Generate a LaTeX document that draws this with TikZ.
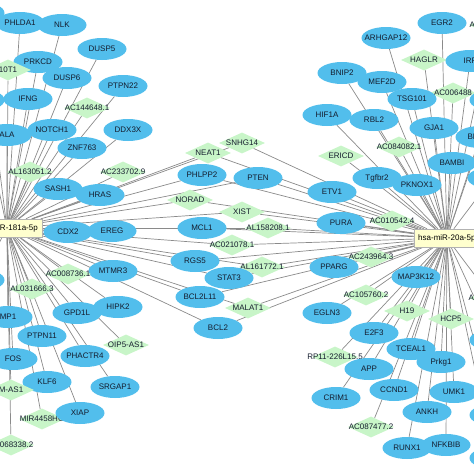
\documentclass[tikz,border=0pt]{standalone}
\usepackage{fontspec}
\setmainfont{Liberation Sans}
\usetikzlibrary{shapes.geometric,backgrounds}
\definecolor{mrnablue}{RGB}{82,190,236}
\definecolor{lncgreen}{RGB}{200,245,200}
\definecolor{mirhub}{RGB}{255,255,206}
\definecolor{edgegray}{RGB}{138,138,138}
\definecolor{txt}{RGB}{20,28,45}

\begin{document}
\begin{tikzpicture}[x=1pt,y=-1pt,font=\fontsize{8}{9.5}\selectfont,
  g/.style={ellipse,fill=mrnablue,minimum width=49pt,minimum height=22pt,inner sep=0pt,label={[text=txt]center:#1}},
  g/.default={},
  l/.style={diamond,fill=lncgreen,minimum width=46pt,minimum height=21pt,inner sep=0pt,label={[text=txt]center:#1}},
  l/.default={},
  hub/.style={rectangle,draw=gray!60,fill=mirhub,minimum height=18pt,inner sep=4pt,text=black},
  edge/.style={draw=edgegray,line width=0.7pt}]
\path[use as bounding box,clip](0,0) rectangle (474,474);
% miRNA hubs
\node[hub,anchor=east](mirl) at (42,228){hsa-miR-181a-5p};
\node[hub,anchor=west](mirr) at (414,238){hsa-miR-20a-5p};
% left side
\node[g](cutl1) at (-20,13){};
\node[g=PHLDA1](phlda1) at (20,23){};
\node[g=NLK](nlk) at (62,25){};
\node[g=DUSP5](dusp5) at (102,49){};
\node[g=PRKCD](prkcd) at (38,62){};
\node[l=10T1](l10t1) at (8,70){};
\node[g=DUSP6](dusp6) at (67,78){};
\node[g=PTPN22](ptpn22) at (123,86){};
\node[g](cutl2) at (-20,100){};
\node[g=IFNG](ifng) at (28,99){};
\node[l=AC144648.1](ac144648) at (87,108){};
\node[g=ALA](ala) at (7,135){};
\node[g=NOTCH1](notch1) at (52,130){};
\node[g=DDX3X](ddx3x) at (128,130){};
\node[g=ZNF763](znf763) at (82,148){};
\node[l=AL163051.2](al163051) at (30,172){};
\node[l=AC233702.9](ac233702) at (123,172){};
\node[g=SASH1](sash1) at (58,189){};
\node[g=HRAS](hras) at (100,195){};
\node[g=CDX2](cdx2) at (68,232){};
\node[g=EREG](ereg) at (112,231){};
\node[g=MTMR3](mtmr3) at (113,271){};
\node[l=AC008736.1](ac008736) at (68,274){};
\node[g](cutl3) at (-20,280){};
\node[l=AL031666.3](al031666) at (32,289){};
\node[g=HIPK2](hipk2) at (118,307){};
\node[g=GPD1L](gpd1l) at (77,313){};
\node[g=MP1](mp1) at (8,317){};
\node[g=PTPN11](ptpn11) at (42,336){};
\node[l=OIP5-AS1](oip5as1) at (126,345){};
\node[g=FOS](fos) at (13,359){};
\node[g=PHACTR4](phactr4) at (85,356){};
\node[g=KLF6](klf6) at (47,382){};
\node[g=SRGAP1](srgap1) at (115,387){};
\node[l=M-AS1](mas1) at (11,390){};
\node[l=MIR4458HG](mir4458) at (42,419){};
\node[g=XIAP](xiap) at (80,413){};
\node[l=AC068338.2](ac068338) at (11,445){};
% shared targets
\node[l=SNHG14](snhg14) at (242,143){};
\node[l=NEAT1](neat1) at (208,153){};
\node[g=PHLPP2](phlpp2) at (202,175){};
\node[g=PTEN](pten) at (258,178){};
\node[l=NORAD](norad) at (190,200){};
\node[l=XIST](xist) at (242,212){};
\node[g=MCL1](mcl1) at (202,228){};
\node[l=AL158208.1](al158208) at (268,228){};
\node[l=AC021078.1](ac021078) at (232,245){};
\node[g=RGS5](rgs5) at (195,261){};
\node[l=AL161772.1](al161772) at (262,267){};
\node[g=STAT3](stat3) at (229,278){};
\node[g=BCL2L11](bcl2l11) at (200,297){};
\node[l=MALAT1](malat1) at (248,308){};
\node[g=BCL2](bcl2) at (218,328){};
% right side
\node[g=EGR2](egr2) at (442,23){};
\node[l](acr1) at (492,25){};
\node[anchor=west,text=txt](acr1txt) at (466,25){A};
\node[g=ARHGAP12](arhgap12) at (386,38){};
\node[l=HAGLR](haglr) at (424,60){};
\node[g=IRF](irf) at (470,61){};
\node[g=BNIP2](bnip2) at (342,73){};
\node[g=MEF2D](mef2d) at (382,82){};
\node[l=AC006488](ac006488) at (453,93){};
\node[g](cutr1) at (494,100){};
\node[g=TSG101](tsg101) at (412,99){};
\node[g=HIF1A](hif1a) at (327,115){};
\node[g=RBL2](rbl2) at (374,120){};
\node[g=GJA1](gja1) at (434,128){};
\node[g](bm) at (480,137){};
\node[anchor=west,text=txt](bmtxt) at (464,137){BM};
\node[l=AC084082.1](ac084082) at (399,147){};
\node[l=ERICD](ericd) at (341,156){};
\node[g=BAMBI](bambi) at (452,163){};
\node[g](cutr2) at (492,178){};
\node[g=Tgfbr2](tgfbr2) at (377,178){};
\node[g=PKNOX1](pknox1) at (417,185){};
\node[g=ETV1](etv1) at (332,192){};
\node[g=PURA](pura) at (341,223){};
\node[l=AC010542.4](ac010542) at (392,221){};
\node[l=AC243964.3](ac243964) at (371,257){};
\node[g=PPARG](pparg) at (334,267){};
\node[g=MAP3K12](map3k12) at (416,277){};
\node[l=AC105760.2](ac105760) at (366,295){};
\node[l](acr2) at (492,298){};
\node[anchor=west,text=txt](acr2txt) at (465,298){A};
\node[g=EGLN3](egln3) at (327,313){};
\node[l=H19](h19) at (407,311){};
\node[l=HCP5](hcp5) at (451,319){};
\node[g](cutr3) at (494,340){};
\node[g=E2F3](e2f3) at (374,333){};
\node[g=TCEAL1](tceal1) at (411,349){};
\node[l=RP11-226L15.5](rp11) at (335,357){};
\node[g=Prkg1](prkg1) at (441,362){};
\node[g=APP](app) at (369,369){};
\node[g=CCND1](ccnd1) at (394,390){};
\node[g=UMK1](umk1) at (454,392){};
\node[g=CRIM1](crim1) at (336,398){};
\node[g](cutr4) at (494,415){};
\node[g=ANKH](ankh) at (427,412){};
\node[l=AC087477.2](ac087477) at (371,427){};
\node[g](cutr5) at (494,458){};
\node[g=RUNX1](runx1) at (407,448){};
\node[g=NFKBIB](nfkbib) at (446,445){};
% edges
\begin{scope}[on background layer]
\foreach \n in {cutl1,phlda1,nlk,dusp5,prkcd,l10t1,dusp6,ptpn22,cutl2,ifng,ac144648,ala,notch1,ddx3x,znf763,
  al163051,ac233702,sash1,hras,cdx2,ereg,mtmr3,ac008736,cutl3,al031666,hipk2,gpd1l,mp1,ptpn11,oip5as1,
  fos,phactr4,klf6,srgap1,mas1,mir4458,xiap,ac068338}
  \draw[edge](mirl)--(\n);
\foreach \n in {snhg14,neat1,phlpp2,pten,norad,xist,mcl1,al158208,ac021078,rgs5,al161772,stat3,bcl2l11,malat1,bcl2}
  {\draw[edge](mirl)--(\n);\draw[edge](mirr)--(\n);}
\foreach \n in {egr2,acr1,arhgap12,haglr,irf,bnip2,mef2d,ac006488,cutr1,tsg101,hif1a,rbl2,gja1,bm,ac084082,
  ericd,bambi,cutr2,tgfbr2,pknox1,etv1,pura,ac010542,ac243964,pparg,map3k12,ac105760,acr2,egln3,h19,hcp5,
  cutr3,e2f3,tceal1,rp11,prkg1,app,ccnd1,umk1,crim1,cutr4,ankh,ac087477,cutr5,runx1,nfkbib}
  \draw[edge](mirr)--(\n);
\end{scope}
\end{tikzpicture}
\end{document}
